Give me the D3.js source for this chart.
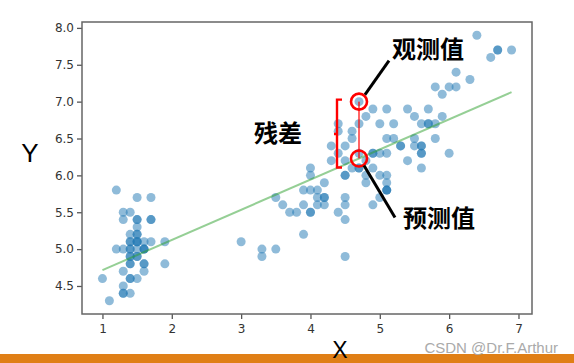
<!DOCTYPE html>
<html>
<head>
<meta charset="utf-8">
<script src="https://cdn.jsdelivr.net/npm/d3@7"></script>
<style>
html,body{margin:0;padding:0;background:#fff;}
svg{display:block;}
</style>
</head>
<body>
<svg id="chart" width="574" height="363"></svg>
<script>
// Iris: petal length (X) vs sepal length (Y)
const petalLength = [1.4,1.4,1.3,1.5,1.4,1.7,1.4,1.5,1.4,1.5,1.5,1.6,1.4,1.1,1.2,1.5,1.3,1.4,1.7,1.5,1.7,1.5,1.0,1.7,1.9,1.6,1.6,1.5,1.4,1.6,1.6,1.5,1.5,1.4,1.5,1.2,1.3,1.4,1.3,1.5,1.3,1.3,1.3,1.6,1.9,1.4,1.6,1.4,1.5,1.4,
4.7,4.5,4.9,4.0,4.6,4.5,4.7,3.3,4.6,3.9,3.5,4.2,4.0,4.7,3.6,4.4,4.5,4.1,4.5,3.9,4.8,4.0,4.9,4.7,4.3,4.4,4.8,5.0,4.5,3.5,3.8,3.7,3.9,5.1,4.5,4.5,4.7,4.4,4.1,4.0,4.4,4.6,4.0,3.3,4.2,4.2,4.2,4.3,3.0,4.1,
6.0,5.1,5.9,5.6,5.8,6.6,4.5,6.3,5.8,6.1,5.1,5.3,5.5,5.0,5.1,5.3,5.5,6.7,6.9,5.0,5.7,4.9,6.7,4.9,5.7,6.0,4.8,4.9,5.6,5.8,6.1,6.4,5.6,5.1,5.6,6.1,5.6,5.5,4.8,5.4,5.6,5.1,5.1,5.9,5.7,5.2,5.0,5.2,5.4,5.1];
const sepalLength = [5.1,4.9,4.7,4.6,5.0,5.4,4.6,5.0,4.4,4.9,5.4,4.8,4.8,4.3,5.8,5.7,5.4,5.1,5.7,5.1,5.4,5.1,4.6,5.1,4.8,5.0,5.0,5.2,5.2,4.7,4.8,5.4,5.2,5.5,4.9,5.0,5.5,4.9,4.4,5.1,5.0,4.5,4.4,5.0,5.1,4.8,5.1,4.6,5.3,5.0,
7.0,6.4,6.9,5.5,6.5,5.7,6.3,4.9,6.6,5.2,5.0,5.9,6.0,6.1,5.6,6.7,5.6,5.8,6.2,5.6,5.9,6.1,6.3,6.1,6.4,6.6,6.8,6.7,6.0,5.7,5.5,5.5,5.8,6.0,5.4,6.0,6.7,6.3,5.6,5.5,5.5,6.1,5.8,5.0,5.6,5.7,5.7,6.2,5.1,5.7,
6.3,5.8,7.1,6.3,6.5,7.6,4.9,7.3,6.7,7.2,6.5,6.4,6.8,5.7,5.8,6.4,6.5,7.7,7.7,6.0,6.9,5.6,7.7,6.3,6.7,7.2,6.2,6.1,6.4,7.2,7.4,7.9,6.4,6.3,6.1,7.7,6.3,6.4,6.0,6.9,6.7,6.9,5.8,6.8,6.7,6.7,6.3,6.5,6.2,5.9];
// fitted regression line endpoints (x, y)
const fitX = [1.0, 6.9];
const fitY = [4.715, 7.128];
// highlighted residual: observed and predicted at x = 4.7
const residX = [4.7, 4.7];
const residY = [7.0, 6.229];
const xTicks = [1,2,3,4,5,6,7];
const yTicks = [4.5,5.0,5.5,6.0,6.5,7.0,7.5,8.0];
const labels = {obs:"观测值", pred:"预测值", resid:"残差", x:"X", y:"Y", mark:"CSDN @Dr.F.Arthur"};

const svg = d3.select("#chart");
const L=82, R=532, T=22, B=314;
const x = d3.scaleLinear().domain([0.705, 7.195]).range([L, R]);
const y = d3.scaleLinear().domain([4.12, 8.08]).range([B, T]);

// points
svg.append("g").selectAll("circle")
  .data(d3.range(petalLength.length))
  .join("circle")
  .attr("cx", i => x(petalLength[i]))
  .attr("cy", i => y(sepalLength[i]))
  .attr("r", 4.5)
  .attr("fill", "#1f77b4")
  .attr("fill-opacity", 0.5);

// regression line
svg.append("line")
  .attr("x1", x(fitX[0])).attr("y1", y(fitY[0]))
  .attr("x2", x(fitX[1])).attr("y2", y(fitY[1]))
  .attr("stroke", "#2ca02c").attr("stroke-opacity", 0.5).attr("stroke-width", 2);

// axes
const fontTick = "DejaVu Sans, sans-serif";
const xAxis = svg.append("g").attr("transform", `translate(0,${B})`)
  .call(d3.axisBottom(x).tickValues(xTicks).tickFormat(d3.format("d")).tickSizeOuter(0).tickSize(5));
const yAxis = svg.append("g").attr("transform", `translate(${L},0)`)
  .call(d3.axisLeft(y).tickValues(yTicks).tickFormat(d3.format(".1f")).tickSizeOuter(0).tickSize(5));
[xAxis, yAxis].forEach(g => {
  g.select(".domain").remove();
  g.selectAll("line").attr("stroke", "#555").attr("stroke-width", 1.3);
  g.selectAll("text").attr("fill", "#333").style("font-family", fontTick).style("font-size", "12px");
});
xAxis.selectAll("text").attr("dy", "0.95em");
// frame
svg.append("rect").attr("x", L).attr("y", T).attr("width", R-L).attr("height", B-T)
  .attr("fill", "none").attr("stroke", "#666").attr("stroke-width", 1.5);

// residual annotation
const ox = x(residX[0]), oy = y(residY[0]), py = y(residY[1]);
svg.append("line").attr("x1", ox).attr("x2", ox).attr("y1", oy).attr("y2", py)
  .attr("stroke", "#ff0000").attr("stroke-opacity", 0.6).attr("stroke-width", 2);
[oy, py].forEach(cy => svg.append("circle").attr("cx", ox).attr("cy", cy).attr("r", 8)
  .attr("fill", "none").attr("stroke", "#ff0000").attr("stroke-width", 2.6));
// bracket
const bx = ox - 22;
svg.append("path")
  .attr("d", `M${bx+5},${oy-2} H${bx} V${py+9} H${bx+5} M${bx},${(oy+py)/2+4} H${bx-3}`)
  .attr("fill", "none").attr("stroke", "#ff0000").attr("stroke-width", 2.4);
// leader lines
svg.append("line").attr("x1", ox+6).attr("y1", oy-7).attr("x2", ox+30).attr("y2", oy-41)
  .attr("stroke", "#000").attr("stroke-width", 3);
svg.append("line").attr("x1", ox+5).attr("y1", py+7).attr("x2", ox+36).attr("y2", py+59)
  .attr("stroke", "#000").attr("stroke-width", 3);

const cjk = "'Noto Sans CJK SC', sans-serif";
svg.append("text").attr("x", 392).attr("y", 58).text(labels.obs)
  .style("font-family", cjk).style("font-weight", "bold").style("font-size", "24px").attr("fill", "#000");
svg.append("text").attr("x", 403).attr("y", 227).text(labels.pred)
  .style("font-family", cjk).style("font-weight", "bold").style("font-size", "24px").attr("fill", "#000");
svg.append("text").attr("x", 254).attr("y", 142).text(labels.resid)
  .style("font-family", cjk).style("font-weight", "bold").style("font-size", "24px").attr("fill", "#000");

// bottom orange bar
svg.append("rect").attr("x", 0).attr("y", 354).attr("width", 574).attr("height", 9).attr("fill", "#e07f16");

// axis titles
svg.append("text").attr("x", 30).attr("y", 162).attr("text-anchor", "middle").text(labels.y)
  .style("font-family", "Liberation Sans, sans-serif").style("font-size", "26px").attr("fill", "#000");
svg.append("text").attr("x", 340).attr("y", 358).attr("text-anchor", "middle").text(labels.x)
  .style("font-family", "Liberation Sans, sans-serif").style("font-size", "23px").attr("fill", "#000");
svg.append("text").attr("x", 558).attr("y", 353).attr("text-anchor", "end").text(labels.mark)
  .style("font-family", "Liberation Sans, sans-serif").style("font-size", "15px").attr("fill", "#aaa");
</script>
</body>
</html>
